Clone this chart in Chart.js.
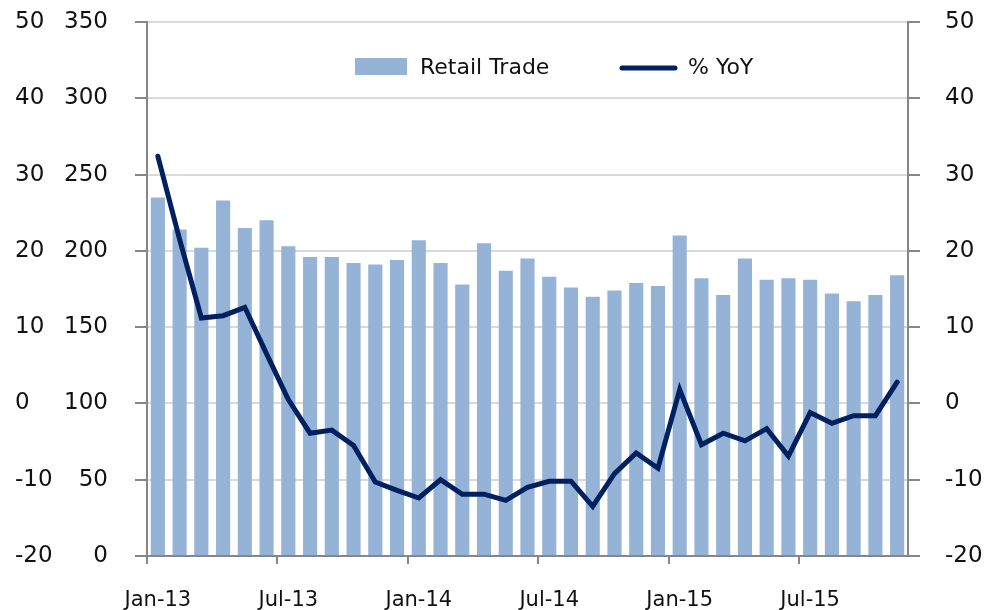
<!DOCTYPE html>
<html>
<head>
<meta charset="utf-8">
<script src="https://cdn.jsdelivr.net/npm/chart.js@4"></script>
<style>
  html, body { margin: 0; padding: 0; background: #fff; }
  #wrap { width: 994px; height: 610px; }
</style>
</head>
<body>
<div id="wrap"><canvas id="myChart" width="994" height="610"></canvas></div>
<script>
const months = ['Jan','Feb','Mar','Apr','May','Jun','Jul','Aug','Sep','Oct','Nov','Dec']
const years = ['13','14','15']
const labels = []
years.forEach(y => months.forEach(m => labels.push(m + '-' + y)))
labels.length = 35   // Jan-13 .. Nov-15

const retailTrade = [
  235, 214, 202, 233, 215, 220, 203, 196, 196, 192, 191, 194,
  207, 192, 178, 205, 187, 195, 183, 176, 170, 174, 179, 177,
  210, 182, 171, 195, 181, 182, 181, 172, 167, 171, 184
]
const yoy = [
  32.4, 21.5, 11.2, 11.5, 12.6, 6.5, 0.5, -3.9, -3.5, -5.5, -10.3, -11.4,
  -12.4, -10.0, -11.9, -11.9, -12.7, -11.0, -10.2, -10.2, -13.5, -9.2, -6.5, -8.5,
  1.8, -5.4, -3.9, -4.9, -3.3, -6.9, -1.2, -2.6, -1.6, -1.6, 2.8
]
const barTicks = [0, 350, 50]
const pctTicks = [-20, 50, 10]

const FONT = "'DejaVu Sans', sans-serif"
const axisGrey = '#868686'

// legend drawn inside the plot area
const insideLegend = {
  id: 'insideLegend',
  afterDraw(chart) {
    const ctx = chart.ctx
    const ds = chart.data.datasets
    const y = 68
    ctx.save()
    ctx.font = '22px ' + FONT
    ctx.textBaseline = 'middle'
    ctx.textAlign = 'left'
    ctx.fillStyle = ds[1].backgroundColor
    ctx.fillRect(355, 58, 52, 17)
    ctx.fillStyle = '#111'
    ctx.fillText(ds[1].label, 420, y)
    ctx.strokeStyle = ds[0].borderColor
    ctx.lineWidth = 5
    ctx.lineCap = 'round'
    ctx.beginPath()
    ctx.moveTo(622, y)
    ctx.lineTo(675, y)
    ctx.stroke()
    ctx.fillStyle = '#111'
    ctx.fillText(ds[0].label, 688, y)
    ctx.restore()
  }
}

// fixed axis width, no extra label padding above/below
const fixY = w => s => { s.width = w; s.paddingTop = 0; s.paddingBottom = 0 }

const ctx = document.getElementById('myChart').getContext('2d')
const myChart = new Chart(ctx, {
  data: {
    labels: labels,
    datasets: [{
      type: 'line',
      label: '% YoY',
      data: yoy,
      yAxisID: 'yPct',
      borderColor: '#002060',
      borderWidth: 5,
      borderCapStyle: 'round',
      pointRadius: 0,
      tension: 0,
      order: 0
    }, {
      type: 'bar',
      label: 'Retail Trade',
      data: retailTrade,
      yAxisID: 'yBar',
      backgroundColor: '#95B3D7',
      categoryPercentage: 1,
      barPercentage: 0.65,
      order: 1
    }]
  },
  options: {
    responsive: false,
    animation: false,
    layout: { padding: { left: 15, right: 0, top: 22, bottom: 0 } },
    plugins: {
      legend: { display: false },
      tooltip: { enabled: false }
    },
    scales: {
      x: {
        offset: true,
        grid: {
          offset: true, drawOnChartArea: false, tickLength: 8, lineWidth: 2,
          tickColor: c => (c.index % 6 === 0 ? axisGrey : 'rgba(0,0,0,0)')
        },
        border: { color: axisGrey, width: 2 },
        ticks: {
          autoSkip: false, maxRotation: 0, padding: 24,
          color: '#111', font: { family: FONT, size: 21 },
          callback: function (v, i) { return i % 6 === 0 ? this.getLabelForValue(v) : '' }
        },
        afterFit(s) { s.height = 54; s.paddingLeft = 0; s.paddingRight = 0 }
      },
      yPct: {
        position: 'left',
        weight: 2,
        min: pctTicks[0], max: pctTicks[1],
        grid: { display: false },
        border: { display: false },
        ticks: { stepSize: pctTicks[2], crossAlign: 'far', color: '#111', font: { family: FONT, size: 23 } },
        afterFit: fixY(45)
      },
      yBar: {
        position: 'left',
        weight: 1,
        min: barTicks[0], max: barTicks[1],
        grid: { color: '#d9d9d9', lineWidth: 2, tickLength: 12, tickColor: axisGrey },
        border: { color: axisGrey, width: 2 },
        ticks: { stepSize: barTicks[2], padding: 27, color: '#111', font: { family: FONT, size: 23 } },
        afterFit: fixY(87)
      },
      yPct2: {
        position: 'right',
        min: pctTicks[0], max: pctTicks[1],
        grid: { drawOnChartArea: false, tickLength: 12, tickColor: axisGrey, lineWidth: 2 },
        border: { color: axisGrey, width: 2 },
        ticks: { stepSize: pctTicks[2], padding: 25, color: '#111', font: { family: FONT, size: 23 } },
        afterFit: fixY(86)
      }
    }
  },
  plugins: [insideLegend]
})
</script>
</body>
</html>
